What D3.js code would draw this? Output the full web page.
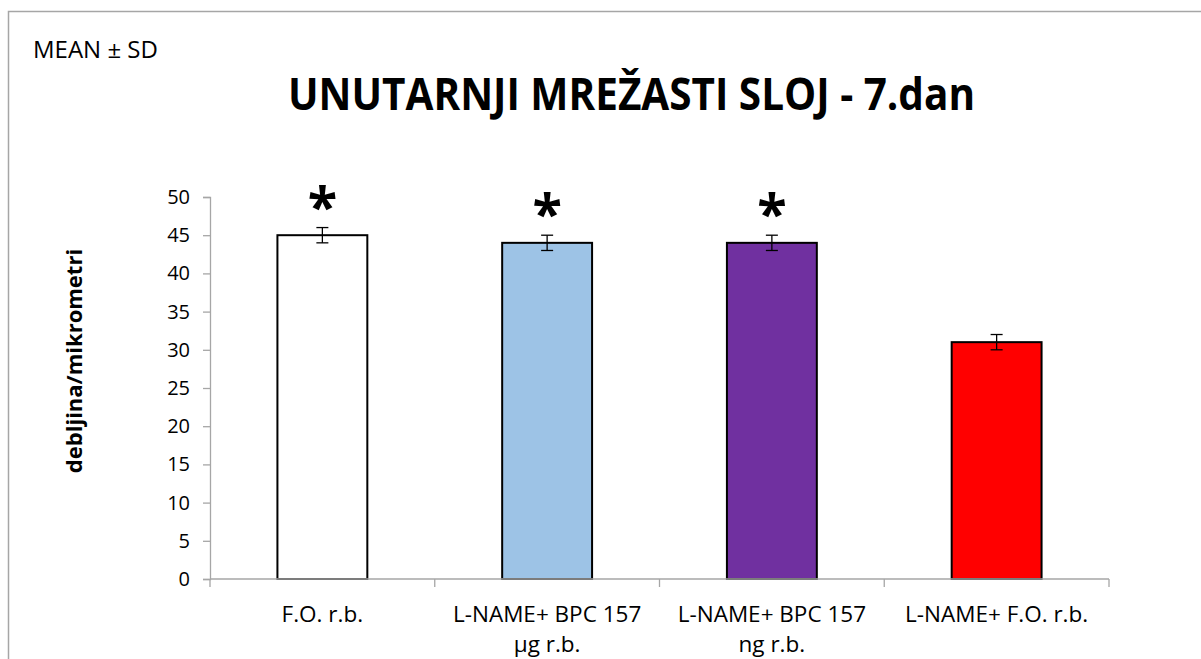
<!DOCTYPE html>
<html>
<head>
<meta charset="utf-8">
<script src="https://cdn.jsdelivr.net/npm/d3@7"></script>
<style>
  html, body { margin: 0; padding: 0; background: #fff; }
  svg { display: block; }
  text { font-family: "Open Sans", "Noto Sans", sans-serif; fill: #000; }
</style>
</head>
<body>
<svg id="chart" width="1201" height="659"></svg>
<script>
// Groups, means and standard deviations
const categories = [
  ["F.O. r.b."],
  ["L-NAME+ BPC 157", "µg r.b."],
  ["L-NAME+ BPC 157", "ng r.b."],
  ["L-NAME+ F.O. r.b."]
];
const means = [45, 44, 44, 31];
const sds = [1, 1, 1, 1];
const significant = [true, true, true, false];
const barColors = ["#FFFFFF", "#9DC3E6", "#7030A0", "#FF0000"];
const yTicks = [0, 5, 10, 15, 20, 25, 30, 35, 40, 45, 50];

const svg = d3.select("#chart");
const margin = { left: 210, right: 92, top: 197, bottom: 80 };
const W = 1201, H = 659;
const plotW = W - margin.left - margin.right;
const plotH = H - margin.top - margin.bottom;

// Outer chart frame
svg.append("rect")
  .attr("x", 8.5).attr("y", 11.5)
  .attr("width", 1300).attr("height", 800)
  .attr("fill", "none").attr("stroke", "#A6A6A6").attr("stroke-width", 1.5);

const g = svg.append("g").attr("transform", `translate(${margin.left},${margin.top})`);

const x = d3.scaleBand().domain(d3.range(categories.length)).range([0, plotW]).paddingInner(0.6).paddingOuter(0.3);
const xOuter = d3.scaleBand().domain(d3.range(categories.length)).range([0, plotW]);
const y = d3.scaleLinear().domain([0, 50]).range([plotH, 0]);

// Y axis
const yAxis = g.append("g").call(d3.axisLeft(y).tickValues(yTicks).tickSize(7).tickPadding(13));
yAxis.select(".domain").attr("stroke", "#A6A6A6").attr("stroke-width", 1.3);
yAxis.selectAll(".tick line").attr("stroke", "#A6A6A6").attr("stroke-width", 1.3);
yAxis.selectAll(".tick text").style("font-size", "20px").style("font-family", "'Open Sans', sans-serif").attr("fill", "#000");

// Bars
g.selectAll("rect.bar").data(means).join("rect")
  .attr("class", "bar")
  .attr("x", (d, i) => x(i))
  .attr("y", d => y(d))
  .attr("width", x.bandwidth())
  .attr("height", d => plotH - y(d))
  .attr("fill", (d, i) => barColors[i])
  .attr("stroke", "#000").attr("stroke-width", 2);

// X axis baseline and boundary ticks
g.append("line").attr("x1", 0).attr("x2", plotW).attr("y1", plotH).attr("y2", plotH)
  .attr("stroke", "#A6A6A6").attr("stroke-width", 1.3);
const bounds = d3.range(categories.length + 1).map(i => i < categories.length ? xOuter(i) : plotW);
g.selectAll("line.xtick").data(bounds).join("line")
  .attr("class", "xtick")
  .attr("x1", d => d).attr("x2", d => d)
  .attr("y1", plotH).attr("y2", plotH + 8)
  .attr("stroke", "#A6A6A6").attr("stroke-width", 1.3);

// Error bars
const cap = 6;
const eb = g.selectAll("g.err").data(means).join("g").attr("class", "err")
  .attr("transform", (d, i) => `translate(${x(i) + x.bandwidth() / 2},0)`);
eb.append("line").attr("y1", (d, i) => y(d + sds[i])).attr("y2", (d, i) => y(d - sds[i]))
  .attr("stroke", "#000").attr("stroke-width", 1.3);
eb.append("line").attr("x1", -cap).attr("x2", cap)
  .attr("y1", (d, i) => y(d + sds[i])).attr("y2", (d, i) => y(d + sds[i]))
  .attr("stroke", "#000").attr("stroke-width", 1.3);
eb.append("line").attr("x1", -cap).attr("x2", cap)
  .attr("y1", (d, i) => y(d - sds[i])).attr("y2", (d, i) => y(d - sds[i]))
  .attr("stroke", "#000").attr("stroke-width", 1.3);

// Significance markers
g.selectAll("text.star").data(means.map((d, i) => ({ d, i })).filter(o => significant[o.i])).join("text")
  .attr("class", "star")
  .attr("x", o => x(o.i) + x.bandwidth() / 2)
  .attr("y", o => y(o.d + sds[o.i]) - 2)
  .attr("text-anchor", "middle")
  .style("font-size", "54px").style("font-weight", "bold")
  .text("*");

// Category labels
const lab = g.selectAll("text.cat").data(categories).join("text")
  .attr("class", "cat")
  .attr("text-anchor", "middle")
  .attr("transform", (d, i) => `translate(${x(i) + x.bandwidth() / 2},${plotH + 43})`)
  .style("font-size", "22.5px");
lab.selectAll("tspan").data(d => d).join("tspan")
  .attr("x", 0).attr("dy", (d, j) => j === 0 ? 0 : 30)
  .text(d => d);

// Y axis title
svg.append("text")
  .attr("transform", "translate(82,361) rotate(-90)")
  .attr("text-anchor", "middle")
  .style("font-size", "22px").style("font-weight", "bold")
  .text("debljina/mikrometri");

// Chart title and subtitle
svg.append("text")
  .attr("x", 288).attr("y", 110)
  .attr("textLength", 687).attr("lengthAdjust", "spacingAndGlyphs")
  .style("font-size", "45px").style("font-weight", "bold")
  .text("UNUTARNJI MREŽASTI SLOJ - 7.dan");

svg.append("text")
  .attr("x", 33).attr("y", 58)
  .style("font-size", "24px")
  .text("MEAN ± SD");
</script>
</body>
</html>
